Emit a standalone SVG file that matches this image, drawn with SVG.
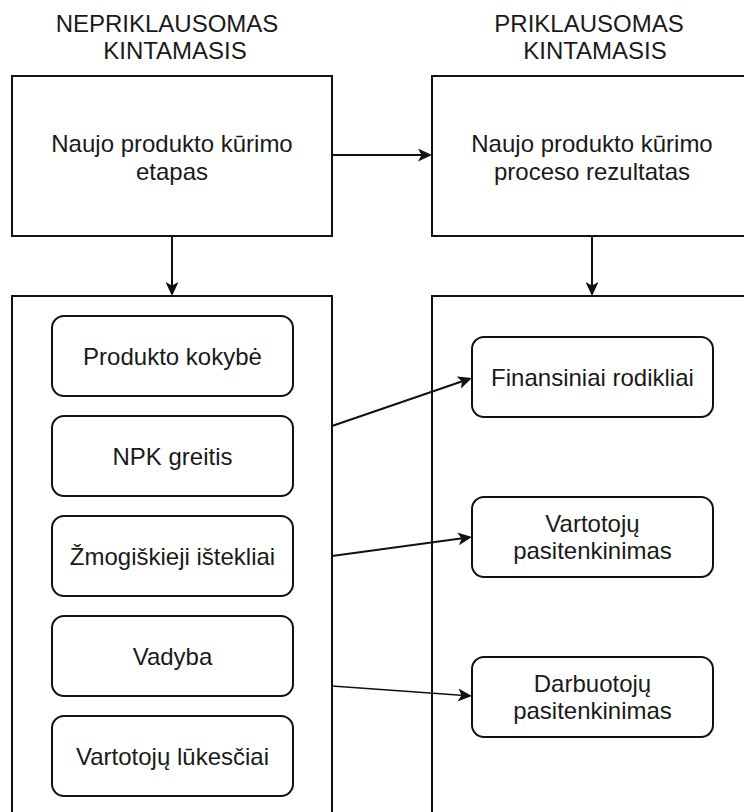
<svg xmlns="http://www.w3.org/2000/svg" width="744" height="812" viewBox="0 0 744 812">
  <defs>
    <marker id="arrow" markerUnits="userSpaceOnUse" markerWidth="14" markerHeight="13" refX="10" refY="6.5" orient="auto">
      <path d="M0,0 L14,6.5 L0,13 L3.5,6.5 Z" fill="#111"/>
    </marker>
  </defs>
  <style>
    .box { fill: #fff; stroke: #111; stroke-width: 2; }
    .txt { font-family: "Liberation Sans", Arial, sans-serif; font-size: 24px; fill: #1a1a1a; text-anchor: middle; }
    .conn { fill: none; stroke: #111; stroke-width: 2; marker-end: url(#arrow); }
  </style>
  <rect width="744" height="812" fill="#fff"/>

  <g id="heading-left">
    <text class="txt" x="167" y="32">NEPRIKLAUSOMAS</text>
    <text class="txt" x="175" y="59">KINTAMASIS</text>
  </g>
  <g id="heading-right">
    <text class="txt" x="589" y="32">PRIKLAUSOMAS</text>
    <text class="txt" x="595" y="59">KINTAMASIS</text>
  </g>

  <g id="container-left">
    <rect class="box" x="12" y="296" width="320" height="530"/>
  </g>
  <g id="container-right">
    <rect class="box" x="432" y="296" width="330" height="530"/>
  </g>

  <g id="etapas">
    <rect class="box" x="12" y="76" width="320" height="160"/>
    <text class="txt" x="172" y="152">Naujo produkto kūrimo</text>
    <text class="txt" x="172" y="179.5">etapas</text>
  </g>
  <g id="rezultatas">
    <rect class="box" x="432" y="76" width="330" height="160"/>
    <text class="txt" x="592" y="152">Naujo produkto kūrimo</text>
    <text class="txt" x="592" y="179.5">proceso rezultatas</text>
  </g>

  <g id="kokybe">
    <rect class="box" x="52" y="316" width="241" height="80" rx="12"/>
    <text class="txt" x="172.5" y="364.5">Produkto kokybė</text>
  </g>
  <g id="greitis">
    <rect class="box" x="52" y="416" width="241" height="80" rx="12"/>
    <text class="txt" x="172.5" y="464.5">NPK greitis</text>
  </g>
  <g id="istekliai">
    <rect class="box" x="52" y="516" width="241" height="80" rx="12"/>
    <text class="txt" x="172.5" y="564.5">Žmogiškieji ištekliai</text>
  </g>
  <g id="vadyba">
    <rect class="box" x="52" y="616" width="241" height="80" rx="12"/>
    <text class="txt" x="172.5" y="664.5">Vadyba</text>
  </g>
  <g id="lukesciai">
    <rect class="box" x="52" y="716" width="241" height="80" rx="12"/>
    <text class="txt" x="172.5" y="764.5">Vartotojų lūkesčiai</text>
  </g>

  <g id="finansiniai">
    <rect class="box" x="472" y="337" width="241" height="80" rx="12"/>
    <text class="txt" x="592.5" y="385.5">Finansiniai rodikliai</text>
  </g>
  <g id="vartotoju">
    <rect class="box" x="472" y="497" width="241" height="80" rx="12"/>
    <text class="txt" x="592.5" y="532">Vartotojų</text>
    <text class="txt" x="592.5" y="559">pasitenkinimas</text>
  </g>
  <g id="darbuotoju">
    <rect class="box" x="472" y="657" width="241" height="80" rx="12"/>
    <text class="txt" x="592.5" y="692">Darbuotojų</text>
    <text class="txt" x="592.5" y="719">pasitenkinimas</text>
  </g>

  <g id="connectors">
    <line class="conn" x1="332" y1="155" x2="428" y2="155"/>
    <line class="conn" x1="172" y1="236" x2="172" y2="292"/>
    <line class="conn" x1="592" y1="236" x2="592" y2="292"/>
    <line class="conn" x1="332" y1="426" x2="468.2" y2="379.3"/>
    <line class="conn" x1="332" y1="556" x2="468" y2="537.5"/>
    <line class="conn" x1="332" y1="686" x2="468" y2="695.7" style="stroke-width:1.5"/>
  </g>
</svg>
